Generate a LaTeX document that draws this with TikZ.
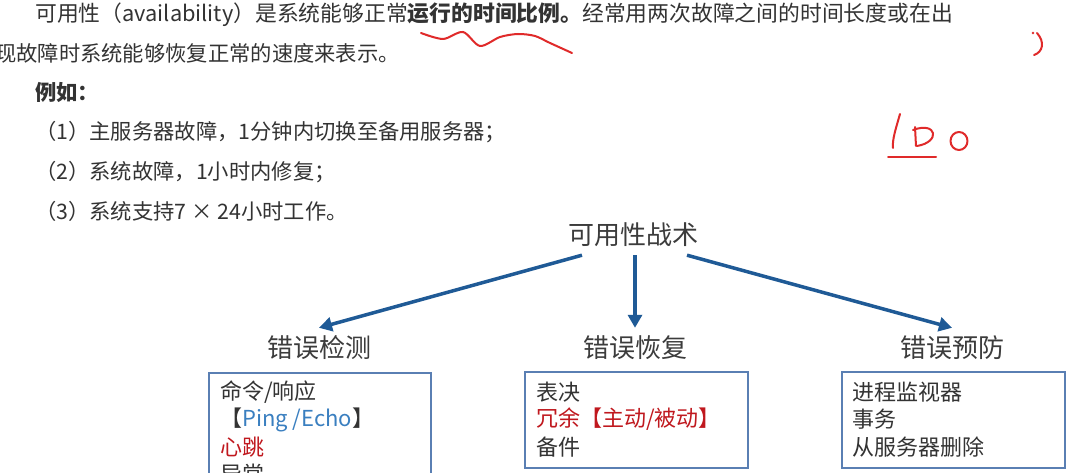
\documentclass[tikz,border=0pt]{standalone}
\usepackage{fontspec}
\setmainfont{Noto Sans CJK SC}
\usetikzlibrary{arrows.meta}
\definecolor{txt}{HTML}{333333}
\definecolor{head}{HTML}{3C3C3C}
\definecolor{arrowblue}{HTML}{1F5A96}
\definecolor{boxblue}{HTML}{5A7FB3}
\definecolor{redtxt}{HTML}{C0181E}
\definecolor{pingblue}{HTML}{3A7FC0}
\definecolor{pen}{HTML}{E02A2A}
\tikzset{
  para/.style={anchor=west, inner sep=0pt, text=txt, font=\fontsize{21.3}{25}\selectfont},
  heading/.style={inner sep=0pt, minimum height=40pt, text=head, font=\fontsize{26}{30}\selectfont},
  tacbox/.style={draw=boxblue, line width=1.5pt, inner sep=0pt, anchor=north west},
  item/.style={anchor=west, inner sep=0pt, text=txt, font=\fontsize{22}{26}\selectfont},
  arr/.style={draw=arrowblue, line width=3.5pt, -{Triangle[length=13pt,width=14pt]}, shorten >=0pt},
  hand/.style={draw=pen, line width=2pt, line cap=round, line join=round}
}
\begin{document}
\begin{tikzpicture}[x=1pt,y=-1pt]
\useasboundingbox (0,0) rectangle (1080,473);
\clip (0,0) rectangle (1080,473);
\fill[white] (0,0) rectangle (1080,473);
% paragraph
\node[para, font=\fontsize{21.8}{25}\selectfont] (p1) at (35,15) {可用性（availability）是系统能够正常\textbf{运行的时间比例。}经常用两次故障之间的时间长度或在出};
\node[para] (p2) at (-5,53) {现故障时系统能够恢复正常的速度来表示。};
\node[para] (p3) at (35,92) {\textbf{例如：}};
\node[para] (e1) at (35,132) {（1）主服务器故障，1分钟内切换至备用服务器；};
\node[para] (e2) at (35,172) {（2）系统故障，1小时内修复；};
\node[para] (e3) at (35,211) {（3）系统支持7 × 24小时工作。};
% tree
\node[heading] (t) at (633,235) {可用性战术};
\node[heading] (h1) at (319,348) {错误检测};
\node[heading] (h2) at (635,348) {错误恢复};
\node[heading] (h3) at (952,348) {错误预防};
\draw[arr] ([xshift=-51pt]t.south) -- (h1.north);
\draw[arr] ([xshift=2pt]t.south) -- (h2.north);
\draw[arr] ([xshift=54pt]t.south) -- (h3.north);
% boxes
\node[tacbox, minimum width=222pt, minimum height=130pt] (b1) at (208,372) {};
\node[tacbox, minimum width=223pt, minimum height=96pt] (b2) at (524,371) {};
\node[tacbox, minimum width=223pt, minimum height=96pt] (b3) at (841,371) {};
\node[item] (b1a) at (220,392) {命令/响应};
\node[item] (b1b) at (220,419.5) {【\textcolor{pingblue}{Ping /Echo}】};
\node[item, text=redtxt] (b1c) at (220,447) {心跳};
\node[item] (b1d) at (220,474.5) {异常};
\node[item] (b2a) at (536,392) {表决};
\node[item, text=redtxt] (b2b) at (536,419.5) {冗余【主动/被动】};
\node[item] (b2c) at (536,447) {备件};
\node[item] (b3a) at (852,392) {进程监视器};
\node[item] (b3b) at (852,419.5) {事务};
\node[item] (b3c) at (852,447) {从服务器删除};
% hand annotations
\draw[hand] plot[smooth, tension=0.5] coordinates {(421,33) (443,39) (463,32) (480,46) (500,37) (518,34) (535,36) (550,43) (572,53)};
\draw[hand] (900,114) .. controls (896,128) and (892,140) .. (893,148);
\draw[hand] (915,127) -- (916,146);
\draw[hand] (913,130) .. controls (937,121) and (941,142) .. (917,146);
\draw[hand] (959,141) ellipse [x radius=8.5pt, y radius=9pt];
\draw[hand] (888,157) -- (936,157);
\fill[pen] (1033,33) circle (1.3pt);
\draw[hand] (1037,33) .. controls (1045,42) and (1043,52) .. (1034,55);
\end{tikzpicture}
\end{document}
